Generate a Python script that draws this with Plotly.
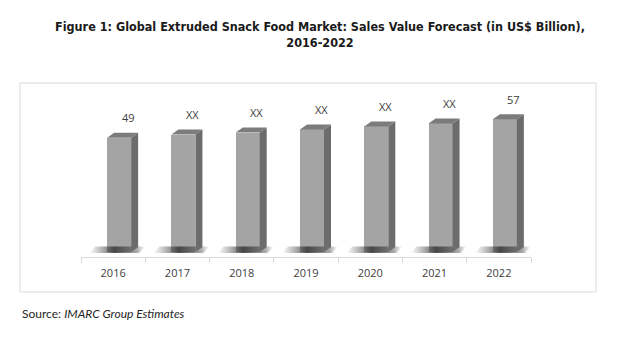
import plotly.graph_objects as go

# Data
years = ["2016", "2017", "2018", "2019", "2020", "2021", "2022"]
sales = [49, 50.4, 51.3, 52.6, 53.9, 55.2, 57]
value_labels = ["49", "XX", "XX", "XX", "XX", "XX", "57"]

# Figure geometry (pixels)
W, H = 625, 339
ML, MR, MT, MB = 81, 94, 95, 82
plot_w = W - ML - MR
plot_h = H - MT - MB
y_min, y_max = -2.15, 67.4
n = len(years)
px_x = plot_w / n
px_y = plot_h / (y_max - y_min)

# 3D bar geometry, in data units
off = 6 / px_x        # front face shift from category centre
bw = 24 / px_x        # front face width
dx = 7 / px_x         # depth to the right
dy = 5 / px_y         # depth upward


def px2paper_x(px):
    return (px - ML) / plot_w


def px2paper_y(py):
    return (H - MB - py) / plot_h


fig = go.Figure()

# soft floor shadows behind the bars
for i, v in enumerate(sales):
    fl = i + off - bw / 2
    fr = fl + bw
    xs = [fl - 18 / px_x, fr + 8 / px_x, fr + 14 / px_x, fl - 12 / px_x, fl - 18 / px_x]
    ys = [-0.4, -0.4, 2.4, 2.4, -0.4]
    fig.add_trace(go.Scatter(
        x=xs, y=ys, mode="lines", fill="toself", line=dict(width=0),
        fillgradient=dict(type="horizontal", colorscale=[
            [0.0, "rgba(90,90,90,0)"],
            [0.3, "rgba(70,70,70,0.55)"],
            [0.45, "rgba(60,60,60,0.9)"],
            [0.85, "rgba(80,80,80,0.5)"],
            [1.0, "rgba(120,120,120,0)"]]),
        hoverinfo="skip", showlegend=False))

# side faces
for i, v in enumerate(sales):
    fr = i + off + bw / 2
    fig.add_trace(go.Scatter(
        x=[fr, fr + dx, fr + dx, fr, fr], y=[0, dy, v + dy, v, 0],
        mode="lines", fill="toself", fillcolor="#6c6c6c",
        line=dict(width=0), hoverinfo="skip", showlegend=False))

# top faces
for i, v in enumerate(sales):
    fl = i + off - bw / 2
    fr = fl + bw
    fig.add_trace(go.Scatter(
        x=[fl, fl + dx, fr + dx, fr, fl], y=[v, v + dy, v + dy, v, v],
        mode="lines", fill="toself", fillcolor="#7c7c7c",
        line=dict(width=0), hoverinfo="skip", showlegend=False))

# front faces
fig.add_trace(go.Bar(
    x=[i + off for i in range(n)], y=sales, width=bw,
    marker=dict(color="#a4a4a4", line=dict(width=0)),
    showlegend=False, hoverinfo="skip"))

# value labels
for i, (v, t) in enumerate(zip(sales, value_labels)):
    fig.add_annotation(
        x=i + off + 9 / px_x, y=v, text=t, showarrow=False,
        yshift=20, font=dict(family="Open Sans", size=11, color="#404040"))

# title
fig.add_annotation(
    xref="paper", yref="paper", x=px2paper_x(320), y=px2paper_y(34),
    text="<b>Figure 1: Global Extruded Snack Food Market: Sales Value Forecast (in US$ Billion),<br>2016-2022</b>",
    showarrow=False, align="center", xanchor="center", yanchor="middle",
    font=dict(family="DejaVu Sans Condensed", size=12.5, color="#1a1a1a"))

# source
fig.add_annotation(
    xref="paper", yref="paper", x=px2paper_x(20), y=px2paper_y(313),
    text="Source: <i>IMARC Group Estimates</i>", showarrow=False,
    xanchor="left", yanchor="middle",
    font=dict(family="Lato", size=12, color="#262626"))

# outer border of the chart area
fig.add_shape(
    type="rect", xref="paper", yref="paper",
    x0=px2paper_x(20), x1=px2paper_x(596), y0=px2paper_y(292), y1=px2paper_y(83),
    line=dict(color="#d9d9d9", width=1), fillcolor="rgba(0,0,0,0)", layer="below")

fig.update_layout(
    width=W, height=H,
    margin=dict(l=ML, r=MR, t=MT, b=MB),
    paper_bgcolor="white", plot_bgcolor="white",
    bargap=0,
    xaxis=dict(
        range=[-0.5, n - 0.5], tickvals=list(range(n)), ticktext=years,
        showgrid=False, zeroline=False, showline=True, linecolor="#d9d9d9",
        linewidth=1, ticks="", ticklabelstandoff=6,
        tickfont=dict(family="Open Sans", size=11, color="#404040"),
        minor=dict(tickmode="array", tickvals=[k - 0.5 for k in range(n + 1)],
                   ticks="outside", ticklen=5, tickcolor="#d9d9d9", tickwidth=1,
                   showgrid=False),
        fixedrange=True),
    yaxis=dict(range=[y_min, y_max], visible=False, fixedrange=True),
)

fig.write_html("out.html")
